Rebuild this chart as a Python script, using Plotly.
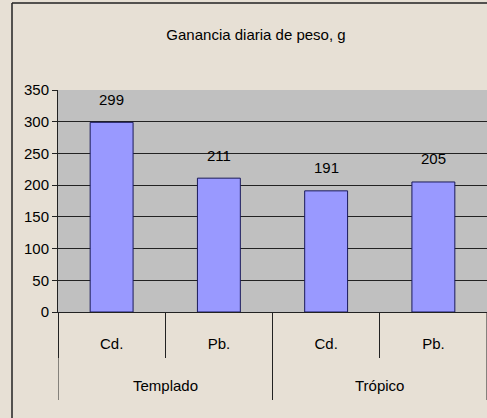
import plotly.graph_objects as go

groups = ["Templado", "Trópico"]
metals = ["Cd.", "Pb.", "Cd.", "Pb."]
values = [299, 211, 191, 205]
yticks = [0, 50, 100, 150, 200, 250, 300, 350]
title = "Ganancia diaria de peso, g"

FONT = "Liberation Sans, Arial, sans-serif"
FS = 15
BG = "#E7E0D5"
LINE = "#222"

xpos = list(range(len(values)))

fig = go.Figure()
fig.add_trace(go.Bar(
    x=xpos, y=values,
    marker=dict(color="#9999FF", line=dict(color="#1a1a5a", width=1)),
    width=0.4, showlegend=False, hoverinfo="skip",
))

for i, v in zip(xpos, values):
    fig.add_annotation(x=i, y=v, xref="x", yref="y", text=str(v), showarrow=False,
                       yshift=23, font=dict(size=FS, color="#000", family=FONT))

# group labels (second level of the category axis)
for g, (a, b) in zip(groups, [(0, 1), (2, 3)]):
    fig.add_annotation(x=(a + b) / 2, y=-73 / 222, xref="x", yref="paper", text=g,
                       showarrow=False, yanchor="middle",
                       font=dict(size=FS, color="#000", family=FONT))
    for edge in (a - 0.5, b + 0.5):
        fig.add_shape(type="line", xref="x", yref="paper", x0=edge, x1=edge,
                      y0=0, y1=-88 / 222, line=dict(color=LINE, width=1))

fig.update_layout(
    template="none",
    width=487, height=418,
    margin=dict(l=58, r=0, t=90, b=106, autoexpand=False),
    paper_bgcolor=BG, plot_bgcolor="#C0C0C0",
    font=dict(family=FONT, size=FS, color="#000"),
    title=dict(text=title, x=256 / 487, xanchor="center", y=1 - 35 / 418, yanchor="middle",
               font=dict(size=FS, family=FONT)),
)
fig.update_yaxes(range=[0, 350], tickvals=yticks, automargin=False,
                 showgrid=True, gridcolor=LINE, gridwidth=1,
                 showline=True, linecolor=LINE, linewidth=1,
                 ticks="outside", ticklen=5, tickcolor=LINE, tickwidth=1,
                 zeroline=True, zerolinecolor=LINE, zerolinewidth=1,
                 tickfont=dict(size=FS))
fig.update_xaxes(range=[-0.5, 3.5], tickvals=xpos, ticktext=metals, automargin=False,
                 showgrid=False, zeroline=False,
                 showline=True, linecolor=LINE, linewidth=1,
                 ticks="", ticklabelstandoff=18,
                 minor=dict(tickvals=[-0.5, 0.5, 1.5, 2.5, 3.5], ticks="outside",
                            ticklen=45, tickcolor=LINE, tickwidth=1, showgrid=False),
                 tickfont=dict(size=FS))

# chart-area border (top and left edges visible)
fig.add_shape(type="line", xref="paper", yref="paper", x0=-46 / 429, x1=1.01,
              y0=1 + 87 / 222, y1=1 + 87 / 222, line=dict(color=LINE, width=1.5))
fig.add_shape(type="line", xref="paper", yref="paper", x0=-46 / 429, x1=-46 / 429,
              y0=1 + 87 / 222, y1=-1.5, line=dict(color=LINE, width=1.5))

fig.write_html("out.html", config={"displayModeBar": False},
               post_script="document.body.style.margin='0';document.body.style.overflow='hidden';")
